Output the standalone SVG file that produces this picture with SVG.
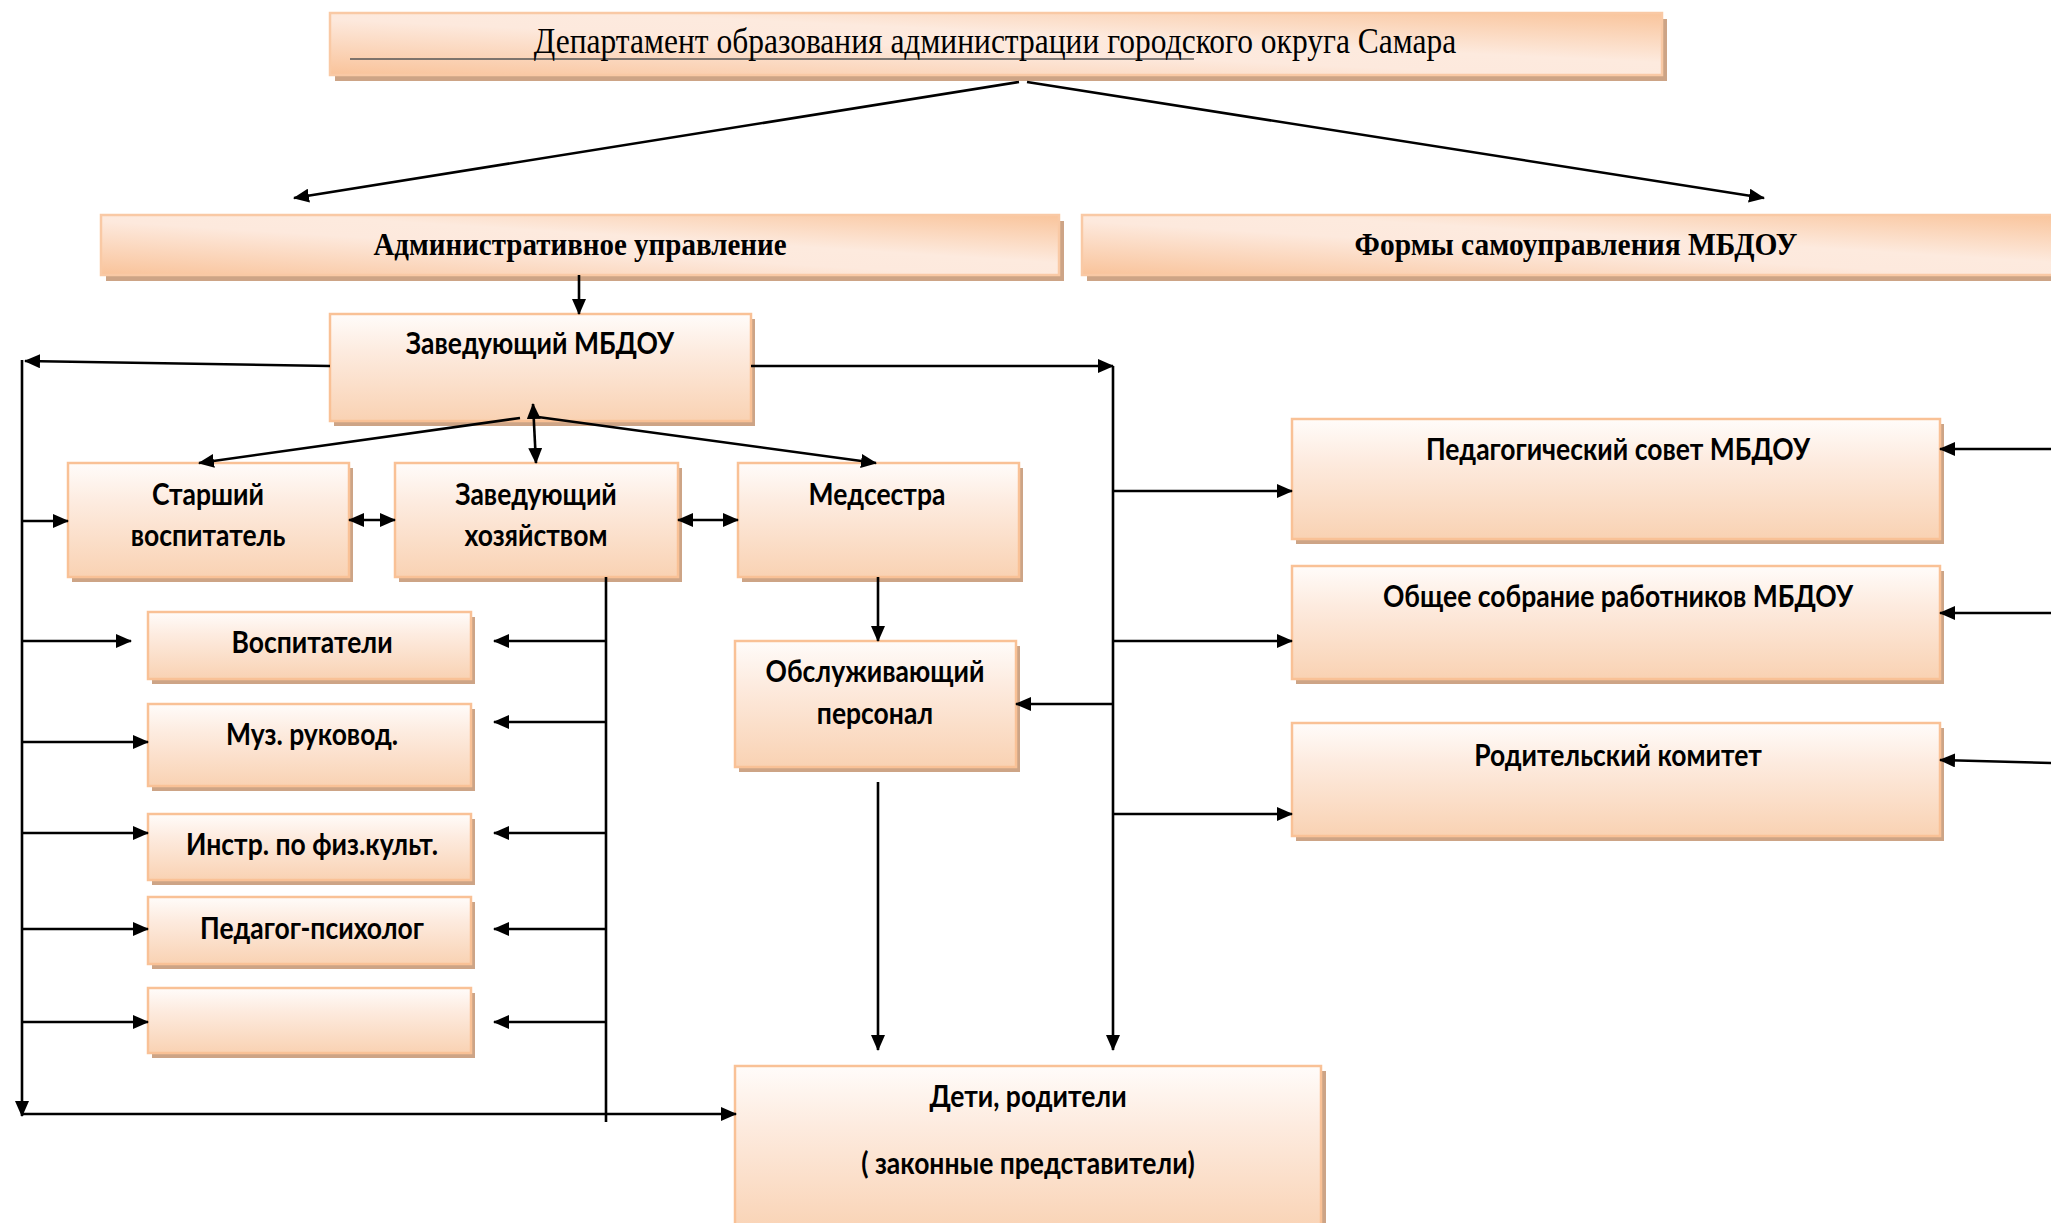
<svg xmlns="http://www.w3.org/2000/svg" width="2051" height="1223" viewBox="0 0 2051 1223">
<defs>
<linearGradient id="nodeGrad" x1="0" y1="0" x2="0" y2="1">
<stop offset="0" stop-color="#fffcfa"/>
<stop offset="0.35" stop-color="#fdebdf"/>
<stop offset="1" stop-color="#f9d2b3"/>
</linearGradient>
<linearGradient id="hdrGrad" x1="0" y1="1" x2="1" y2="0">
<stop offset="0" stop-color="#f9c39a"/>
<stop offset="0.45" stop-color="#fde9dd"/>
<stop offset="0.6" stop-color="#fdeade"/>
<stop offset="1" stop-color="#f9c49b"/>
</linearGradient>
<marker id="ah" markerUnits="userSpaceOnUse" markerWidth="16" markerHeight="14" refX="15" refY="7" orient="auto-start-reverse">
<path d="M0,0 L16,7 L0,14 z" fill="#000"/>
</marker>
</defs>
<style>
.shadow{fill:#cda486}
.node{fill:url(#nodeGrad);stroke:#f9c196;stroke-width:2.5}
.hdr{fill:url(#hdrGrad);stroke:#f9c9a5;stroke-width:2.5}
.t{font-family:Lato,"Noto Sans","DejaVu Sans",sans-serif;font-weight:bold;font-size:26.5px;fill:#000;text-anchor:middle}
.s{font-family:"Liberation Serif","DejaVu Serif",serif;fill:#000;text-anchor:middle}
.c{stroke:#000;stroke-width:2.6;fill:none}
.a{marker-end:url(#ah)}
.d{marker-start:url(#ah);marker-end:url(#ah)}
</style>

<g id="n-dept">
<rect class="shadow" x="335" y="19" width="1332" height="62"/>
<rect class="hdr" x="330" y="13" width="1332" height="62"/>
<line x1="350" y1="59" x2="1194" y2="59" stroke="#555" stroke-width="1.3"/>
<text class="s" transform="translate(995,53) scale(1,1.12)" font-size="31.5">Департамент образования администрации городского округа Самара</text>
</g>

<g id="n-admin">
<rect class="shadow" x="106" y="221" width="958" height="60"/>
<rect class="hdr" x="101" y="215" width="958" height="60"/>
<text class="s" transform="translate(580,255) scale(1,1.1)" font-size="29" font-weight="bold">Административное управление</text>
</g>

<g id="n-forms">
<rect class="shadow" x="1087" y="221" width="980" height="60"/>
<rect class="hdr" x="1082" y="215" width="980" height="60"/>
<text class="s" transform="translate(1576,255) scale(1,1.1)" font-size="29.5" font-weight="bold">Формы самоуправления МБДОУ</text>
</g>

<g id="n-head">
<rect class="shadow" x="334" y="319" width="421" height="107"/>
<rect class="node" x="330" y="314" width="421" height="107"/>
<text class="t" transform="translate(540,354) scale(1,1.15)">Заведующий МБДОУ</text>
</g>

<g id="n-senior">
<rect class="shadow" x="72" y="468" width="281" height="114"/>
<rect class="node" x="68" y="463" width="281" height="114"/>
<text class="t" transform="translate(208,505) scale(1,1.15)">Старший</text>
<text class="t" transform="translate(208,546) scale(1,1.15)">воспитатель</text>
</g>

<g id="n-supply">
<rect class="shadow" x="399" y="468" width="283" height="114"/>
<rect class="node" x="395" y="463" width="283" height="114"/>
<text class="t" transform="translate(536,505) scale(1,1.15)">Заведующий</text>
<text class="t" transform="translate(536,546) scale(1,1.15)">хозяйством</text>
</g>

<g id="n-nurse">
<rect class="shadow" x="742" y="468" width="281" height="114"/>
<rect class="node" x="738" y="463" width="281" height="114"/>
<text class="t" transform="translate(877,505) scale(1,1.15)">Медсестра</text>
</g>

<g id="n-service">
<rect class="shadow" x="739" y="646" width="281" height="126"/>
<rect class="node" x="735" y="641" width="281" height="126"/>
<text class="t" transform="translate(875,682) scale(1,1.15)">Обслуживающий</text>
<text class="t" transform="translate(875,724) scale(1,1.15)">персонал</text>
</g>

<g id="n-educators">
<rect class="shadow" x="152" y="617" width="323" height="67"/>
<rect class="node" x="148" y="612" width="323" height="67"/>
<text class="t" transform="translate(312,653) scale(1,1.15)">Воспитатели</text>
</g>

<g id="n-music">
<rect class="shadow" x="152" y="709" width="323" height="82"/>
<rect class="node" x="148" y="704" width="323" height="82"/>
<text class="t" transform="translate(312,745) scale(1,1.15)">Муз. руковод.</text>
</g>

<g id="n-phys">
<rect class="shadow" x="152" y="819" width="323" height="66"/>
<rect class="node" x="148" y="814" width="323" height="66"/>
<text class="t" transform="translate(312,855) scale(1,1.15)">Инстр. по физ.культ.</text>
</g>

<g id="n-psych">
<rect class="shadow" x="152" y="902" width="323" height="67"/>
<rect class="node" x="148" y="897" width="323" height="67"/>
<text class="t" transform="translate(312,939) scale(1,1.15)">Педагог-психолог</text>
</g>

<g id="n-empty">
<rect class="shadow" x="152" y="993" width="323" height="65"/>
<rect class="node" x="148" y="988" width="323" height="65"/>
</g>

<g id="n-council">
<rect class="shadow" x="1296" y="424" width="648" height="120"/>
<rect class="node" x="1292" y="419" width="648" height="120"/>
<text class="t" transform="translate(1618,460) scale(1,1.15)">Педагогический совет МБДОУ</text>
</g>

<g id="n-assembly">
<rect class="shadow" x="1296" y="571" width="648" height="113"/>
<rect class="node" x="1292" y="566" width="648" height="113"/>
<text class="t" transform="translate(1618,607) scale(1,1.15)">Общее собрание работников МБДОУ</text>
</g>

<g id="n-parents-com">
<rect class="shadow" x="1296" y="728" width="648" height="113"/>
<rect class="node" x="1292" y="723" width="648" height="113"/>
<text class="t" transform="translate(1618,766) scale(1,1.15)">Родительский комитет</text>
</g>

<g id="n-children">
<rect class="shadow" x="740" y="1071" width="586" height="170"/>
<rect class="node" x="735" y="1066" width="586" height="170"/>
<text class="t" transform="translate(1028,1107) scale(1,1.15)">Дети, родители</text>
<text class="t" transform="translate(1028,1174) scale(1,1.15)">( законные представители)</text>
</g>

<g id="connectors">
<line class="c a" x1="1019" y1="82" x2="294" y2="198"/>
<line class="c a" x1="1027" y1="82" x2="1764" y2="198"/>
<line class="c a" x1="579" y1="275" x2="579" y2="314"/>
<line class="c a" x1="330" y1="366" x2="25" y2="361"/>
<line class="c a" x1="751" y1="366" x2="1113" y2="366"/>
<line class="c a" x1="22" y1="360" x2="22" y2="1116"/>
<line class="c a" x1="1113" y1="366" x2="1113" y2="1050"/>
<line class="c a" x1="22" y1="1114" x2="736" y2="1114"/>
<line class="c a" x1="520" y1="418" x2="199" y2="463"/>
<line class="c d" x1="533" y1="404" x2="536" y2="463"/>
<line class="c a" x1="538" y1="417" x2="876" y2="463"/>
<line class="c d" x1="349" y1="520" x2="395" y2="520"/>
<line class="c d" x1="678" y1="520" x2="738" y2="520"/>
<line class="c a" x1="22" y1="521" x2="68" y2="521"/>
<line class="c a" x1="878" y1="577" x2="878" y2="641"/>
<line class="c a" x1="1113" y1="704" x2="1016" y2="704"/>
<line class="c a" x1="878" y1="782" x2="878" y2="1050"/>
<line class="c" x1="606" y1="577" x2="606" y2="1122"/>
<line class="c a" x1="606" y1="641" x2="494" y2="641"/>
<line class="c a" x1="606" y1="722" x2="494" y2="722"/>
<line class="c a" x1="606" y1="833" x2="494" y2="833"/>
<line class="c a" x1="606" y1="929" x2="494" y2="929"/>
<line class="c a" x1="606" y1="1022" x2="494" y2="1022"/>
<line class="c a" x1="22" y1="641" x2="131" y2="641"/>
<line class="c a" x1="22" y1="742" x2="148" y2="742"/>
<line class="c a" x1="22" y1="833" x2="148" y2="833"/>
<line class="c a" x1="22" y1="929" x2="148" y2="929"/>
<line class="c a" x1="22" y1="1022" x2="148" y2="1022"/>
<line class="c a" x1="1113" y1="491" x2="1292" y2="491"/>
<line class="c a" x1="1113" y1="641" x2="1292" y2="641"/>
<line class="c a" x1="1113" y1="814" x2="1292" y2="814"/>
<line class="c a" x1="2051" y1="449" x2="1940" y2="449"/>
<line class="c a" x1="2051" y1="613" x2="1940" y2="613"/>
<line class="c a" x1="2051" y1="763" x2="1940" y2="760"/>
</g>
</svg>
